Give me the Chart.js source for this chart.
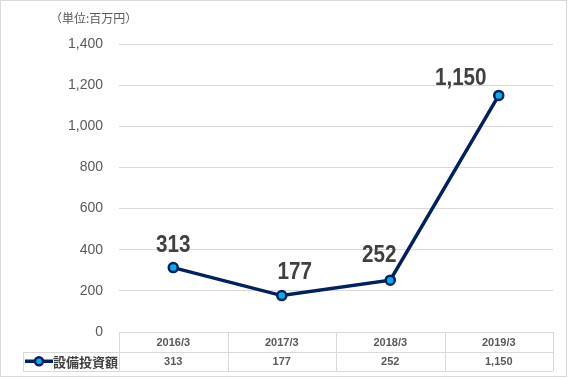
<!DOCTYPE html>
<html>
<head>
<meta charset="utf-8">
<script src="https://cdn.jsdelivr.net/npm/chart.js@4"></script>
<style>
    html, body { margin: 0; padding: 0; background: #fff; }
</style>
</head>
<body>
<canvas id="myChart" width="568" height="378"></canvas>
<script>
// data
const categories = ["2016/3", "2017/3", "2018/3", "2019/3"];
const seriesName = "設備投資額";
const capex = [313, 177, 252, 1150];
const unitLabel = "（単位:百万円）";
const yMax = 1400;
const yStep = 200;

// where Excel put each data label, relative to its point
const labelShift = [[0, -22], [13, -23], [-11, -25], [-38, -17]];

const navy = "#002060";
const lightBlue = "#00b0f0";
const gridColor = "#d9d9d9";
const textGray = "#595959";
const darkGray = "#404040";

function fmt(v) {
    return v.toLocaleString("en-US");
}

// frame, unit text, data table under the plot
const tablePlugin = {
    id: "tablePlugin",
    afterDraw(chart) {
        const ctx = chart.ctx;
        const area = chart.chartArea;
        const n = categories.length;
        const colW = (area.right - area.left) / n;
        const rowH = 19.5;
        const top = area.bottom;
        const mid = top + rowH;
        const bottom = mid + rowH;
        const legendLeft = 23;

        ctx.save();
        ctx.strokeStyle = gridColor;
        ctx.lineWidth = 1;

        // outer frame
        ctx.strokeRect(0.5, 0.5, 566, 376);

        ctx.beginPath();
        ctx.moveTo(area.left, top + 0.5);
        ctx.lineTo(area.right, top + 0.5);
        ctx.moveTo(legendLeft, Math.round(mid) + 0.5);
        ctx.lineTo(area.right, Math.round(mid) + 0.5);
        ctx.moveTo(legendLeft, Math.round(bottom) + 0.5);
        ctx.lineTo(area.right, Math.round(bottom) + 0.5);
        ctx.moveTo(legendLeft + 0.5, Math.round(mid));
        ctx.lineTo(legendLeft + 0.5, Math.round(bottom));
        for (let i = 0; i <= n; i++) {
            const x = Math.round(area.left + i * colW) + 0.5;
            ctx.moveTo(x, top);
            ctx.lineTo(x, Math.round(bottom));
        }
        ctx.stroke();

        ctx.textAlign = "center";
        ctx.textBaseline = "middle";
        ctx.fillStyle = textGray;
        ctx.font = "bold 11px 'Liberation Sans', sans-serif";
        const xScale = chart.scales.x;
        categories.forEach((c, i) => {
            const x = xScale.getPixelForValue(i);
            ctx.fillText(c, x, top + rowH / 2 + 1);
            ctx.fillText(fmt(capex[i]), x, mid + rowH / 2 + 1);
        });

        // legend key
        const ly = mid + rowH / 2;
        ctx.strokeStyle = navy;
        ctx.lineWidth = 3.5;
        ctx.beginPath();
        ctx.moveTo(25, ly);
        ctx.lineTo(53, ly);
        ctx.stroke();
        ctx.beginPath();
        ctx.arc(39, ly, 4, 0, Math.PI * 2);
        ctx.fillStyle = lightBlue;
        ctx.fill();
        ctx.lineWidth = 2.5;
        ctx.stroke();

        ctx.textAlign = "left";
        ctx.fillStyle = darkGray;
        ctx.font = "bold 13px 'Noto Sans CJK JP', sans-serif";
        ctx.fillText(seriesName, 53, ly + 1);

        // unit
        ctx.fillStyle = textGray;
        ctx.font = "12px 'Noto Sans CJK JP', sans-serif";
        ctx.fillText(unitLabel, 50, 18);

        // data labels, squeezed to look like a narrow bold face
        const meta = chart.getDatasetMeta(0);
        ctx.textAlign = "center";
        ctx.fillStyle = darkGray;
        ctx.font = "bold 24px 'Liberation Sans', sans-serif";
        meta.data.forEach((pt, i) => {
            const lx = pt.x + labelShift[i][0];
            const lyy = pt.y + labelShift[i][1];
            ctx.save();
            ctx.translate(lx, lyy);
            ctx.scale(0.86, 1);
            ctx.fillText(fmt(capex[i]), 0, 0);
            ctx.restore();
        });
        ctx.restore();
    }
};

const ctx = document.getElementById("myChart");

new Chart(ctx, {
    type: "line",
    data: {
        labels: categories,
        datasets: [{
            label: seriesName,
            data: capex,
            borderColor: navy,
            borderWidth: 3.5,
            pointRadius: 4.5,
            pointBorderWidth: 2.5,
            pointBorderColor: navy,
            pointBackgroundColor: lightBlue,
            tension: 0,
            clip: false
        }]
    },
    options: {
        responsive: false,
        animation: false,
        layout: { padding: { top: 44, right: 15, bottom: 46, left: 0 } },
        plugins: {
            legend: { display: false },
            tooltip: { enabled: false }
        },
        scales: {
            x: {
                display: false,
                offset: true
            },
            y: {
                min: 0,
                max: yMax,
                afterFit(scale) { scale.width = 119; },
                border: { display: false },
                grid: { color: gridColor, drawTicks: false },
                ticks: {
                    stepSize: yStep,
                    padding: 16,
                    color: textGray,
                    font: { family: "'Liberation Sans', sans-serif", size: 14 },
                    callback: v => fmt(v)
                }
            }
        }
    },
    plugins: [tablePlugin]
});
</script>
</body>
</html>
